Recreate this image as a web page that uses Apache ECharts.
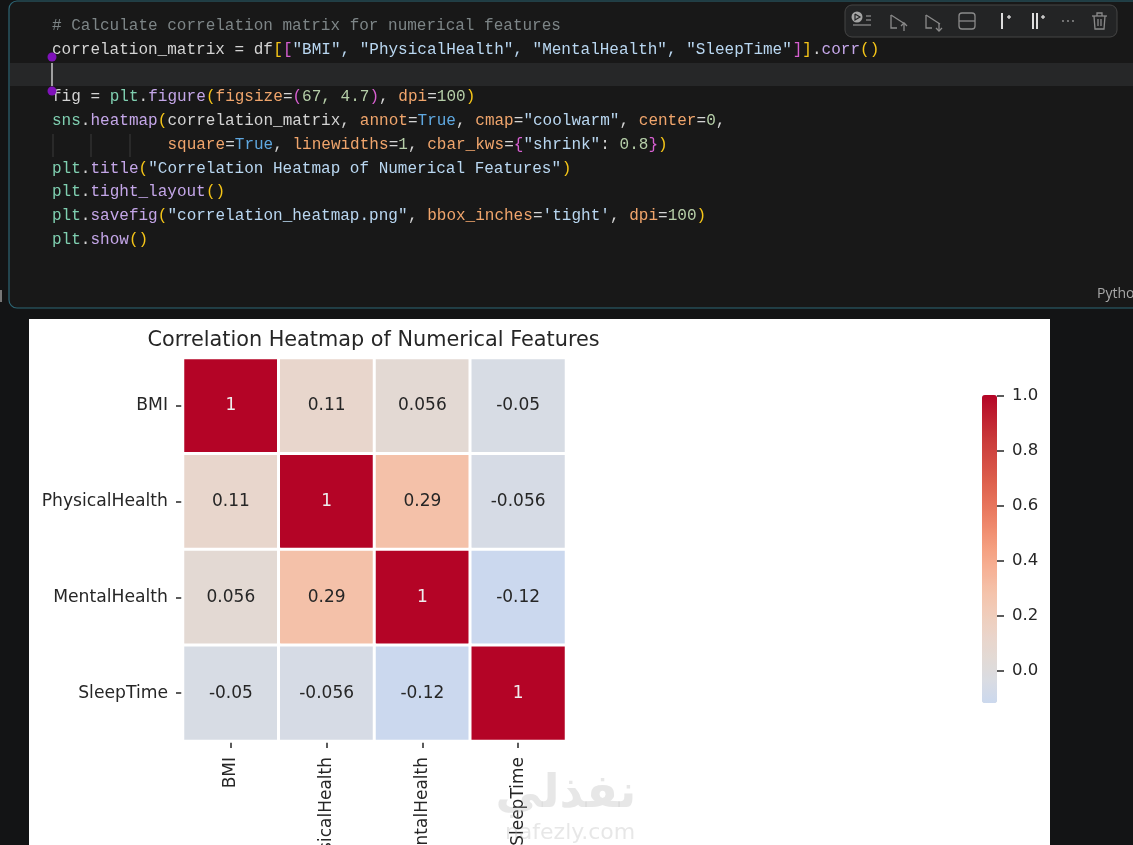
<!DOCTYPE html>
<html>
<head>
<meta charset="utf-8">
<style>html,body{margin:0;padding:0;background:#131415;overflow:hidden}#c{width:1133px;height:845px}</style>
<script src="https://cdn.jsdelivr.net/npm/echarts@6/dist/echarts.min.js"></script>
</head>
<body>
<div id="c"></div>
<script>
const categories = ["BMI", "PhysicalHealth", "MentalHealth", "SleepTime"];
const rowBMI = [1, 0.11, 0.056, -0.05];
const rowPhysical = [0.11, 1, 0.29, -0.056];
const rowMental = [0.056, 0.29, 1, -0.12];
const rowSleep = [-0.05, -0.056, -0.12, 1];
const matrixRows = [rowBMI, rowPhysical, rowMental, rowSleep];
const colorbarTicks = [0, 0.2, 0.4, 0.6, 0.8, 1];
const colorbarMin = -0.12;
const colorbarMax = 1;
const coolwarmStops = ['#cbd8ee','#d9dce3','#e2dad5','#e9d5cb','#f0cdbb','#f4c3ab','#f6b297','#f5a081','#ef8a6d','#e7745b','#de614d','#d44d44','#c93a3a','#bf2030','#b40426'];
const chartTitle = "Correlation Heatmap of Numerical Features";

const C = {txt:'#d4d4d4', com:'#7d8587', teal:'#7fcfb0', fn:'#c4a6e8', str:'#b9d7f1', par:'#f0a56c',
  num:'#b5cea8', kw:'#5fa8e0', y:'#f5c518', p:'#d65fd0', b:'#5aa9e6'};
const codeLines = [
  [26, [['# Calculate correlation matrix for numerical features', C.com]]],
  [50, [['correlation_matrix = df', C.txt],['[', C.y],['[', C.p],['"BMI", "PhysicalHealth", "MentalHealth", "SleepTime"', C.str],[']', C.p],[']', C.y],['.', C.txt],['corr', C.fn],['()', C.y]]],
  [97, [['fig = ', C.txt],['plt', C.teal],['.', C.txt],['figure', C.fn],['(', C.y],['figsize', C.par],['=', C.txt],['(', C.p],['67, 4.7', C.num],[')', C.p],[', ', C.txt],['dpi', C.par],['=', C.txt],['100', C.num],[')', C.y]]],
  [121, [['sns', C.teal],['.', C.txt],['heatmap', C.fn],['(', C.y],['correlation_matrix, ', C.txt],['annot', C.par],['=', C.txt],['True', C.kw],[', ', C.txt],['cmap', C.par],['=', C.txt],['"coolwarm"', C.str],[', ', C.txt],['center', C.par],['=', C.txt],['0', C.num],[',', C.txt]]],
  [145, [['            ', C.txt],['square', C.par],['=', C.txt],['True', C.kw],[', ', C.txt],['linewidths', C.par],['=', C.txt],['1', C.num],[', ', C.txt],['cbar_kws', C.par],['=', C.txt],['{', C.p],['"shrink"', C.str],[': ', C.txt],['0.8', C.num],['}', C.p],[')', C.y]]],
  [169, [['plt', C.teal],['.', C.txt],['title', C.fn],['(', C.y],['"Correlation Heatmap of Numerical Features"', C.str],[')', C.y]]],
  [192, [['plt', C.teal],['.', C.txt],['tight_layout', C.fn],['()', C.y]]],
  [216, [['plt', C.teal],['.', C.txt],['savefig', C.fn],['(', C.y],['"correlation_heatmap.png"', C.str],[', ', C.txt],['bbox_inches', C.par],['=', C.txt],["'tight'", C.str],[', ', C.txt],['dpi', C.par],['=', C.txt],['100', C.num],[')', C.y]]],
  [240, [['plt', C.teal],['.', C.txt],['show', C.fn],['()', C.y]]]
];

const gfx = [];
const rect = (x,y,w,h,fill,extra) => gfx.push(Object.assign({type:'rect',silent:true,shape:{x,y,width:w,height:h,r:(extra&&extra.r)||0},style:Object.assign({fill},(extra&&extra.style)||{})}));
const line = (pts,stroke,w) => gfx.push({type:'polyline',silent:true,shape:{points:pts},style:{stroke,lineWidth:w||1.3,fill:null}});

rect(0,0,1133,845,'#131415');
rect(9,1,1140,307,'#181818',{r:8,style:{stroke:'#2d6675',lineWidth:1.2}});
rect(10,63,1123,23,'#262728');
rect(29,319,1021,526,'#ffffff');
rect(0,290,2,12,'#777777');
const CH = 9.62, X0 = 52;
codeLines.forEach(([y,toks])=>{
  let col = 0;
  toks.forEach(([t,c])=>{
    gfx.push({type:'text',silent:true,x:X0+col*CH,y,style:{text:t,fill:c,font:'16px "Liberation Mono", monospace',textVerticalAlign:'middle',textBaseline:'middle'}});
    col += t.length;
  });
});
[53,91,130].forEach(x=>line([[x,134],[x,157]],'#3a3a3a',1));
line([[52,63],[52,86]],'#c8c8c8',1.5);
[[52,57],[52,91]].forEach(([x,y])=>gfx.push({type:'circle',silent:true,shape:{cx:x,cy:y,r:4.5},style:{fill:'#7f12ba'}}));
rect(845,5,272,32,'#232425',{r:7,style:{stroke:'#454545',lineWidth:1}});
const ic = '#8a8a8a';
gfx.push({type:'circle',silent:true,shape:{cx:857,cy:17,r:5.5},style:{fill:'#a5a5a5'}});
line([[855,14],[860,17],[855,20],[855,14]],'#232425',1.2);
line([[866,16],[871,16]],ic); line([[866,20],[871,20]],ic); line([[853,25],[871,25]],ic);
line([[891,15],[891,28],[897,28]],ic); line([[891,15],[905,24]],ic);
line([[904,23],[904,31]],ic); line([[901,26],[904,23],[907,26]],ic);
line([[926,15],[926,28],[932,28]],ic); line([[926,15],[940,24]],ic);
line([[939,23],[939,31]],ic); line([[936,28],[939,31],[942,28]],ic);
rect(959,13,16,16,'transparent',{r:3,style:{stroke:ic,lineWidth:1.3}});
line([[959,21],[975,21]],ic);
line([[1002,13],[1002,29]],'#dddddd',2);
line([[1007,17],[1011,17]],'#dddddd',1.3); line([[1009,15],[1009,19]],'#dddddd',1.3);
line([[1033,13],[1033,29]],'#dddddd',2); line([[1037,13],[1037,29]],'#dddddd',2);
line([[1041,17],[1045,17]],'#dddddd',1.3); line([[1043,15],[1043,19]],'#dddddd',1.3);
[1063,1068,1073].forEach(x=>gfx.push({type:'circle',silent:true,shape:{cx:x,cy:21,r:0.9},style:{fill:'#999'}}));
line([[1092,16],[1107,16]],ic); line([[1097,16],[1097,13],[1102,13],[1102,16]],ic);
line([[1094,16],[1095,29],[1104,29],[1105,16]],ic);
line([[1098,19],[1098,26]],ic); line([[1101,19],[1101,26]],ic);
gfx.push({type:'text',silent:true,x:1097,y:294,style:{text:'Python',fill:'#a8a8a8',font:'14px "Open Sans", sans-serif',textBaseline:'middle',textVerticalAlign:'middle'}});
gfx.push({type:'text',silent:true,z:50,x:566,y:795,style:{text:'نفذلي',fill:'rgba(175,175,175,0.3)',font:'bold 46px "DejaVu Sans", sans-serif',textAlign:'center',textVerticalAlign:'middle',textBaseline:'middle'}});
gfx.push({type:'text',silent:true,z:50,x:570,y:833,style:{text:'nafezly.com',fill:'rgba(175,175,175,0.3)',font:'22px "DejaVu Sans", sans-serif',textAlign:'center',textVerticalAlign:'middle',textBaseline:'middle'}});

const heatData = [];
matrixRows.forEach((row,y)=>row.forEach((v,x)=>heatData.push({value:[x,y,v],label:{color:v>0.6?'#eeeeee':'#262626'}})));

const chart = echarts.init(document.getElementById('c'),null,{renderer:'canvas'});
chart.setOption({
  animation:false,
  title:{text:chartTitle,left:368.5,top:325,textAlign:'center',textStyle:{fontFamily:'DejaVu Sans',fontSize:20.8,fontWeight:'normal',color:'#262626'},z:5},
  graphic:{elements:gfx},
  grid:[
    {left:183,top:358,width:383,height:383,show:false,containLabel:false,outerBoundsMode:'none'},
    {left:997,top:396,width:1,height:307.5,show:false,containLabel:false,outerBoundsMode:'none'}
  ],
  xAxis:[
    {type:'category',gridIndex:0,data:categories,axisLine:{show:false},splitLine:{show:false},
     axisTick:{show:true,alignWithLabel:true,length:7,lineStyle:{color:'#262626',width:1.5}},
     axisLabel:{rotate:90,interval:0,margin:16,color:'#262626',fontFamily:'DejaVu Sans',fontSize:17}},
    {type:'value',gridIndex:1,min:0,max:1,show:false}
  ],
  yAxis:[
    {type:'category',gridIndex:0,data:categories,inverse:true,axisLine:{show:false},splitLine:{show:false},
     axisTick:{show:true,alignWithLabel:true,length:7,lineStyle:{color:'#262626',width:1.5}},
     axisLabel:{interval:0,margin:15,color:'#262626',fontFamily:'DejaVu Sans',fontSize:17.2}},
    {type:'value',gridIndex:1,min:colorbarMin,max:colorbarMax,position:'right',axisLine:{show:false},splitLine:{show:false},
     axisTick:{show:true,length:7,customValues:colorbarTicks,lineStyle:{color:'#262626',width:1.5}},
     axisLabel:{customValues:colorbarTicks,margin:14,padding:[3,0,0,0],color:'#262626',fontFamily:'DejaVu Sans',fontSize:16.5,verticalAlignMaxLabel:'middle',verticalAlign:'middle',formatter:v=>v.toFixed(1)}}
  ],
  visualMap:{type:'continuous',min:colorbarMin,max:colorbarMax,seriesIndex:0,dimension:2,calculable:false,realtime:false,
    orient:'vertical',left:982,top:395,itemWidth:15,itemHeight:308,text:['',''],showLabel:false,
    inRange:{color:coolwarmStops},hoverLink:false,padding:0,textGap:0},
  series:[{type:'heatmap',xAxisIndex:0,yAxisIndex:0,data:heatData,
    itemStyle:{borderColor:'#ffffff',borderWidth:3},
    label:{show:true,fontFamily:'DejaVu Sans',fontSize:17,formatter:p=>String(p.value[2])},
    emphasis:{disabled:true},silent:true}]
});
</script>
</body>
</html>
